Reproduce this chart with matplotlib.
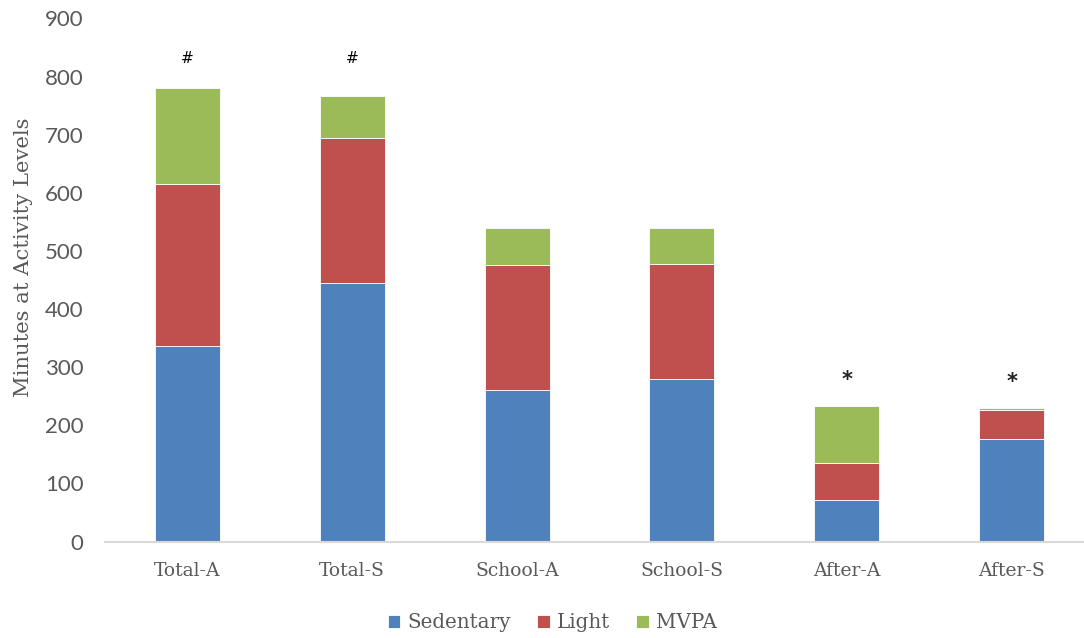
import matplotlib
matplotlib.use("Agg")
import matplotlib.pyplot as plt
import numpy as np

categories = ["Total-A", "Total-S", "School-A", "School-S", "After-A", "After-S"]
sedentary = [337, 444, 260, 279, 71, 176]
light = [279, 251, 215, 198, 64, 51]
mvpa = [165, 71, 65, 63, 98, 3]
markers = ["#", "#", "", "", "*", "*"]

colors = ["#4F81BD", "#C0504D", "#9BBB59"]
gray = "#595959"
plt.rcParams['font.family'] = ['DejaVu Serif']

fig = plt.figure(figsize=(10.84, 6.38), dpi=100)
W, H = 1084, 638
left, right, top, bottom = 105, 1084, 18.5, 541.5
ax = fig.add_axes([left / W, (H - bottom) / H, (right - left) / W, (bottom - top) / H])

x = np.arange(len(categories))
bw = 0.395
b1 = ax.bar(x, sedentary, bw, color=colors[0], edgecolor="white", linewidth=0.6, label="Sedentary")
b2 = ax.bar(x, light, bw, bottom=sedentary, color=colors[1], edgecolor="white", linewidth=0.6, label="Light")
bot3 = np.array(sedentary) + np.array(light)
b3 = ax.bar(x, mvpa, bw, bottom=bot3, color=colors[2], edgecolor="white", linewidth=0.6, label="MVPA")

totals = bot3 + np.array(mvpa)
for i, m in enumerate(markers):
    if m == "#":
        ax.text(x[i], 832, m, ha="center", va="center", fontsize=11, color="black",
                family="DejaVu Sans")
    elif m:
        ax.text(x[i], totals[i] + 45, m, ha="center", va="center", fontsize=15, color="#222222",
                family="DejaVu Sans", fontweight="bold")

ax.set_ylim(0, 900)
ax.set_xlim(-0.5, 5.5 - 10 / 164.8)
ax.set_yticks(range(0, 901, 100))
ax.set_xticks(x)
ax.set_xticklabels(categories)
for s in ["top", "right", "left"]:
    ax.spines[s].set_visible(False)
ax.spines["bottom"].set_color("#D9D9D9")
ax.spines["bottom"].set_linewidth(1.5)
ax.tick_params(axis="both", length=0, colors=gray)
ax.tick_params(axis="x", pad=15, labelsize=13.5)
ax.tick_params(axis="y", pad=15.5, labelsize=16)
for t in ax.get_yticklabels():
    t.set_family(["Lato", "DejaVu Sans"])
ax.set_ylabel("Minutes at Activity Levels", fontsize=15.2, color=gray)
ax.yaxis.set_label_coords(-72 / (right - left), (541.5 - 257) / 523)

leg = fig.legend(handles=[b1, b2, b3], loc="center", bbox_to_anchor=(552 / W, 1 - 623 / H),
                 ncol=3, frameon=False, fontsize=14.3, handlelength=0.65, handleheight=0.65,
                 handletextpad=0.35, columnspacing=1.3)
for t in leg.get_texts():
    t.set_color(gray)

fig.savefig("out.png", dpi=100)
